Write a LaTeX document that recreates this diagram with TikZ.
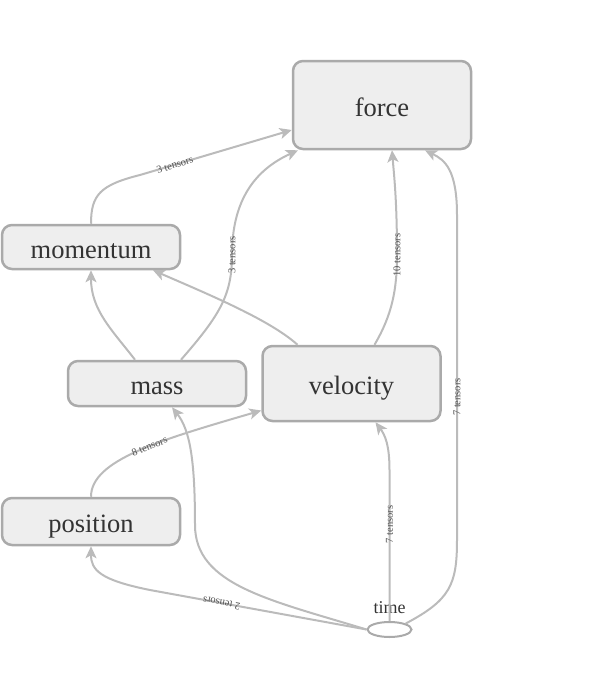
\documentclass[tikz,border=0pt]{standalone}
\usepackage{fontspec}
\setmainfont{Liberation Serif}
\usepackage{xcolor}
\usetikzlibrary{positioning}
\usetikzlibrary{arrows.meta, shapes.geometric}
\definecolor{opfill}{HTML}{EEEEEE}
\definecolor{opline}{HTML}{AAAAAA}
\definecolor{flowline}{HTML}{BBBBBB}
\definecolor{optext}{HTML}{333333}

\begin{document}
\begin{tikzpicture}[x=1pt, y=-1pt,
  op/.style = {draw=opline, fill=opfill, line width=2.5pt, rounded corners=10pt, minimum width=178pt, inner sep=0pt, text height=22pt, text depth=0pt, text=optext, font=\fontsize{26.5}{30}\selectfont},
  flow/.style = {draw=flowline, line width=2pt, -{Stealth[length=12pt, width=11pt, inset=3pt]}},
  num/.style = {sloped, inner sep=0pt, text=optext!85, font=\fontsize{10.5}{12}\selectfont}]
\useasboundingbox (0,0) rectangle (592,699);
\node[op, minimum height=88pt] (force) at (382,105) {force};
\node[op, minimum height=44pt] (momentum) at (91,247) {momentum};
\node[op, minimum height=45pt] (mass) at (157,383.5) {mass};
\node[op, minimum height=75pt, right=14pt of mass] (velocity) {velocity};
\node[op, minimum height=47pt] (position) at (91,521.5) {position};
\node[draw=opline, line width=2pt, ellipse, minimum width=44pt, minimum height=15pt, inner sep=0pt,
  label={[text=optext, font=\fontsize{18}{20}\selectfont, label distance=4pt]above:time}] (time) at (389.5,629.5) {};
\draw[flow] (momentum.north) .. controls (91,195) and (100,185) .. (140,175)
  -- node[num, pos=0.23] {3 tensors} ([yshift=-25pt]force.west);
\draw[flow] ([xshift=-22pt]mass.north) .. controls (112,330) and (91,310) .. (momentum.south);
\draw[flow] ([xshift=24pt]mass.north) .. controls (220,315) and (232,295) .. node[num, pos=1] {3 tensors} (232,255)
  .. controls (232,200) and (255,170) .. ([xshift=-84pt]force.south);
\draw[flow] ([xshift=-54pt]velocity.north) .. controls (270,320) and (210,295) .. ([xshift=62pt]momentum.south);
\draw[flow] ([xshift=23pt]velocity.north) .. controls (392,315) and (397,290) .. node[num, pos=1] {10 tensors} (397,255)
  .. controls (397,200) and (394,175) .. ([xshift=10pt]force.south);
\draw[flow] (position.north) .. controls (91,460) and (160,440) .. node[num, pos=0.56] {8 tensors} ([yshift=-27pt]velocity.west);
\draw[flow] (time.west) -- node[num, allow upside down, pos=0.67] {2 tensors} (150,590)
  .. controls (100,580) and (91,570) .. (position.south);
\draw[flow] (time.west) .. controls (270,600) and (195,585) .. (195,525)
  .. controls (195,460) and (190,430) .. ([xshift=15pt]mass.south);
\draw[flow] (time.north) -- node[num, pos=0.64] {7 tensors} (389.5,470)
  .. controls (389.5,445) and (385,435) .. ([xshift=24pt]velocity.south);
\draw[flow] (time.north east) .. controls (450,600) and (457,585) .. (457,540)
  -- node[num, pos=0.44] {7 tensors} (457,215) .. controls (457,170) and (445,160) .. ([xshift=43pt]force.south);
\end{tikzpicture}
\end{document}
